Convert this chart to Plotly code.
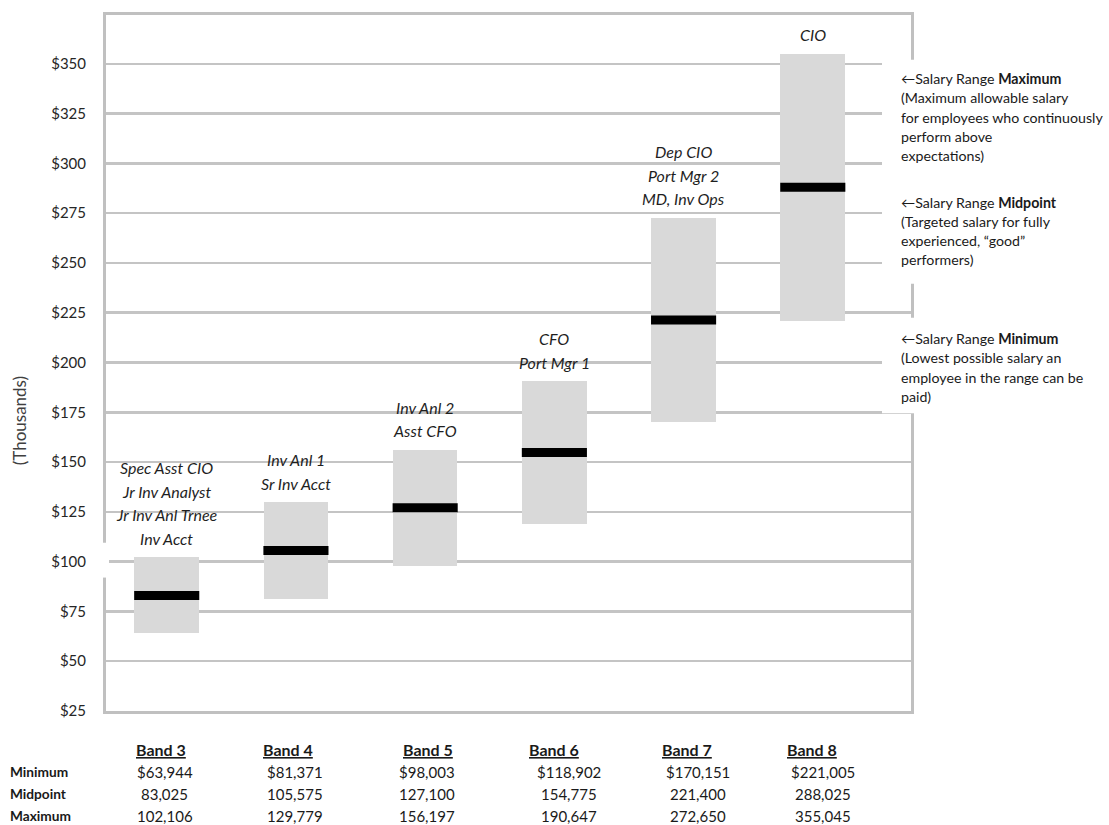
import plotly.graph_objects as go

bands = ["Band 3", "Band 4", "Band 5", "Band 6", "Band 7", "Band 8"]
minimum = [63944, 81371, 98003, 118902, 170151, 221005]
midpoint = [83025, 105575, 127100, 154775, 221400, 288025]
maximum = [102106, 129779, 156197, 190647, 272650, 355045]
titles = [
    ["Spec Asst CIO", "Jr Inv Analyst", "Jr Inv Anl Trnee", "Inv Acct"],
    ["Inv Anl 1", "Sr Inv Acct"],
    ["Inv Anl 2", "Asst CFO"],
    ["CFO", "Port Mgr 1"],
    ["Dep CIO", "Port Mgr 2", "MD, Inv Ops"],
    ["CIO"],
]
row_labels = ["Minimum", "Midpoint", "Maximum"]
y_ticks = list(range(25, 375, 25))

legend_blocks = [
    ("\u2190Salary Range <b>Maximum</b>", ["(Maximum allowable salary", "for employees who continuously", "perform above", "expectations)"]),
    ("\u2190Salary Range <b>Midpoint</b>", ["(Targeted salary for fully", "experienced, \u201cgood\u201d", "performers)"]),
    ("\u2190Salary Range <b>Minimum</b>", ["(Lowest possible salary an", "employee in the range can be", "paid)"]),
]

FONT = "Lato"
W, H = 1109, 825
L, R, T, B = 106, 911, 12, 711

def px_x(px):
    return (px - L) / (R - L)

def px_y(py):
    return (B - py) / (B - T)

mn_k = [v / 1000 for v in minimum]
md_k = [v / 1000 for v in midpoint]
mx_k = [v / 1000 for v in maximum]

fig = go.Figure()
fig.add_trace(go.Bar(
    x=bands, y=[a - b for a, b in zip(mx_k, mn_k)], base=mn_k,
    width=0.5, marker=dict(color="#d9d9d9", line=dict(width=0)),
    hoverinfo="skip", showlegend=False,
))
fig.add_trace(go.Scatter(
    x=bands, y=md_k, mode="markers",
    marker=dict(symbol="line-ew", size=46.5, line=dict(color="black", width=9)),
    hoverinfo="skip", showlegend=False,
))

ann = []
# job titles above bars
for i, b in enumerate(bands):
    lines = titles[i]
    n = len(lines)
    for k, t in enumerate(lines):
        ann.append(dict(
            x=b, y=mx_k[i], xref="x", yref="y", text="<i>" + t + "</i>",
            showarrow=False, yshift=19 + 23.5 * (n - 1 - k),
            font=dict(family=FONT, size=16, color="#1f1f1f"),
            xanchor="center", yanchor="middle",
        ))

# y axis title
ann.append(dict(
    x=px_x(19), y=px_y(420), xref="paper", yref="paper", text="(Thousands)",
    textangle=-90, showarrow=False, font=dict(family=FONT, size=17, color="#404040"),
    xanchor="center", yanchor="middle",
))

# right side explanations
block_tops = [76, 200, 337]
for (head, rest), top in zip(legend_blocks, block_tops):
    for k, t in enumerate([head] + rest):
        ann.append(dict(
            x=px_x(899), y=px_y(top + 19.3 * k), xref="paper", yref="paper",
            text=t, showarrow=False, xanchor="left", yanchor="middle",
            font=dict(family=FONT, size=14.2, color="#1a1a1a"),
        ))

# bottom table
row_vals = [
    ["$" + f"{v:,}" for v in minimum],
    [f"{v:,}" for v in midpoint],
    [f"{v:,}" for v in maximum],
]
head_shift = [-6, -8, 3, 0, 3, -1]
val_shift = [-2, -1, 2, 15, 14, 10]
for i, b in enumerate(bands):
    ann.append(dict(
        x=b, y=px_y(750), xref="x", yref="paper", text="<b><u>" + b + "</u></b>",
        showarrow=False, xshift=head_shift[i], xanchor="center", yanchor="middle",
        font=dict(family=FONT, size=16, color="#1a1a1a"),
    ))
    for r in range(3):
        ann.append(dict(
            x=b, y=px_y(772 + 22 * r), xref="x", yref="paper", text=row_vals[r][i],
            showarrow=False, xshift=val_shift[i], xanchor="center", yanchor="middle",
            font=dict(family=FONT, size=15, color="#1a1a1a"),
        ))
for r, lab in enumerate(row_labels):
    ann.append(dict(
        x=px_x(8), y=px_y(772 + 22 * r), xref="paper", yref="paper",
        text="<b>" + lab + "</b>", showarrow=False, xanchor="left", yanchor="middle",
        font=dict(family=FONT, size=13.7, color="#1a1a1a"),
    ))

shapes = [
    dict(type="rect", xref="paper", yref="paper", x0=px_x(882), x1=px_x(1108),
         y0=px_y(282), y1=px_y(57), fillcolor="white", line=dict(width=0), layer="above"),
    dict(type="rect", xref="paper", yref="paper", x0=px_x(882), x1=px_x(1108),
         y0=px_y(412), y1=px_y(316), fillcolor="white", line=dict(width=0), layer="above"),
    dict(type="rect", xref="paper", yref="paper", x0=px_x(103), x1=px_x(109),
         y0=px_y(577), y1=px_y(542), fillcolor="white", line=dict(width=0), layer="above"),
]

fig.update_layout(
    width=W, height=H,
    margin=dict(l=L, r=W - R, t=T, b=H - B, pad=0),
    paper_bgcolor="white", plot_bgcolor="white",
    bargap=0, showlegend=False,
    annotations=ann, shapes=shapes,
    font=dict(family=FONT, size=14, color="#262626"),
    xaxis=dict(
        type="category", range=[-0.47, 5.76], showticklabels=False, showgrid=False,
        zeroline=False, showline=True, linecolor="#c0c0c0", linewidth=3, mirror=True,
        fixedrange=True,
    ),
    yaxis=dict(
        range=[25, 374.5], tickmode="array", tickvals=y_ticks,
        ticktext=["$" + str(v) for v in y_ticks],
        showgrid=True, gridcolor="#c4c4c4", gridwidth=2.5, zeroline=False,
        showline=True, linecolor="#c0c0c0", linewidth=3, mirror=True,
        ticks="", ticklabelstandoff=14,
        tickfont=dict(family=FONT, size=15, color="#262626"),
        fixedrange=True,
    ),
)

fig.write_html(
    "out.html",
    config={"displayModeBar": False, "staticPlot": True},
    post_script="document.body.style.margin='0px';document.body.style.overflow='hidden';",
)
